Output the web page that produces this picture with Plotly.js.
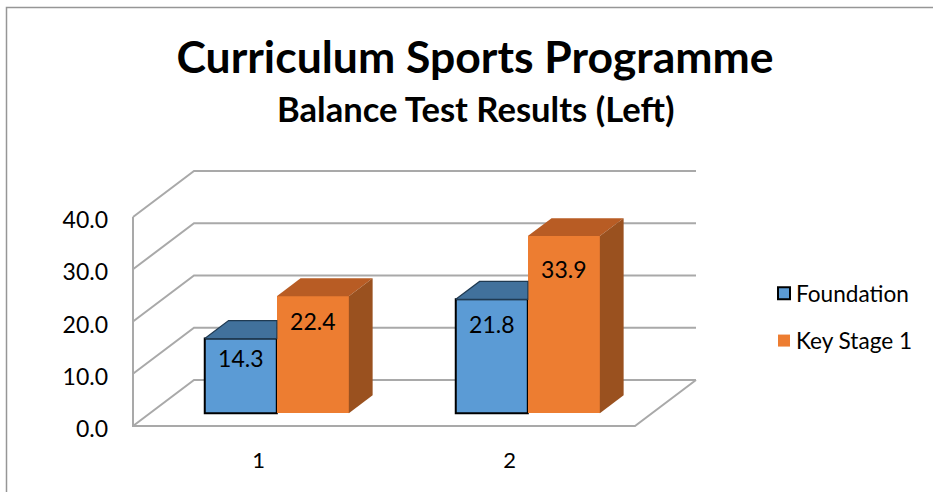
<!DOCTYPE html>
<html>
<head>
<meta charset="utf-8">
<script src="https://cdn.plot.ly/plotly-3.0.1.min.js"></script>
<style>html,body{margin:0;padding:0;background:#fff}#c{width:933px;height:492px}</style>
</head>
<body>
<div id="c"></div>
<script>
const categories = [1, 2];
const foundation = [14.3, 21.8];
const keyStage1 = [22.4, 33.9];
const yTicks = [0, 10, 20, 30, 40];
const seriesNames = ['Foundation', 'Key Stage 1'];
const chartTitle = 'Curriculum Sports Programme';
const chartSubtitle = 'Balance Test Results (Left)';

const W = 933, H = 492;
const fx0 = 133, fy0 = 426, catPx = 251, unitPx = 5.225, backX = 61, backY = 46, pad = 3;
const depthX = backX / catPx, depthY = backY / unitPx;
const FONT = 'Lato, "Open Sans", sans-serif';
const GRID = '#A9A9A9';

const plotL = fx0 - pad, plotR = fx0 + 2 * catPx + backX + pad;
const plotB = fy0 + pad, plotT = fy0 - 40 * unitPx - backY - pad;
const xMin = 0.5 - pad / catPx, xMax = 2.5 + depthX + pad / catPx;
const yMin = -pad / unitPx, yMax = 40 + depthY + pad / unitPx;

const barW = 0.287, barDepth0 = 0.3, barDepth = 0.39;
const shiftX = barDepth0 * depthX, base = barDepth0 * depthY - 0.2;
const bdx = barDepth * depthX, bdy = barDepth * depthY;

const traces = [];
function xs(i, side) { return categories[i] + shiftX + side * barW; }

traces.push({
  type: 'bar', name: seriesNames[0], legendgroup: 'a',
  x: categories.map((c, i) => xs(i, -0.5)), y: foundation,
  base: foundation.map(() => base), width: barW,
  marker: { color: '#5B9BD5', line: { color: '#000', width: 2 } }, hoverinfo: 'skip'
});
traces.push({
  type: 'bar', name: seriesNames[1], legendgroup: 'b',
  x: categories.map((c, i) => xs(i, 0.5)), y: keyStage1,
  base: keyStage1.map(() => base), width: barW,
  marker: { color: '#ED7D31', line: { width: 0 } }, hoverinfo: 'skip'
});

function poly(px, py, color, line) {
  traces.push({
    type: 'scatter', mode: 'lines', x: px, y: py, fill: 'toself', fillcolor: color,
    line: line || { width: 0, color: color }, showlegend: false, hoverinfo: 'skip'
  });
}
categories.forEach((c, i) => {
  const l = xs(i, -1), m = xs(i, 0), r = xs(i, 1);
  const a = base + foundation[i], b = base + keyStage1[i];
  poly([l, l + bdx, m, m, l], [a, a + bdy, a + bdy, a, a], '#41719C', { width: 1.2, color: '#1F3A52' });
  poly([m, m + bdx, r + bdx, r, m], [b, b + bdy, b + bdy, b, b], '#B85C24');
  poly([r, r + bdx, r + bdx, r, r], [base, base + bdy, b + bdy, b, base], '#9A511F');
});

function labels(vals, side) {
  traces.push({
    type: 'scatter', mode: 'text', showlegend: false, hoverinfo: 'skip',
    x: categories.map((c, i) => xs(i, side)),
    y: vals.map(v => base + 0.87 * v - 2.55),
    text: vals.map(v => v.toFixed(1)),
    textposition: 'middle center',
    textfont: { family: FONT, size: 23, color: '#000' }
  });
}
labels(foundation, -0.5);
labels(keyStage1, 0.5);

const gridLine = { color: GRID, width: 2 };
const shapes = [];
const x0 = 0.5, x1 = 2.5;
yTicks.forEach(t => shapes.push({
  type: 'path', layer: 'below', xref: 'x', yref: 'y', line: gridLine,
  path: `M${x0},${t}L${x0 + depthX},${t + depthY}L${x1 + depthX},${t + depthY}`
}));
shapes.push({
  type: 'path', layer: 'below', xref: 'x', yref: 'y', line: gridLine,
  path: `M${x0},${yTicks[yTicks.length - 1]}L${x0},0L${x1},0L${x1 + depthX},${depthY}`
});
const pxX = p => (p - plotL) / (plotR - plotL), pxY = p => (plotB - p) / (plotB - plotT);
shapes.push({
  type: 'path', xref: 'paper', yref: 'paper', line: { color: '#969696', width: 1.5 },
  path: `M${pxX(6.5)},${pxY(H)}L${pxX(6.5)},${pxY(7.5)}L${pxX(W)},${pxY(7.5)}`
});

const layout = {
  width: W, height: H, showlegend: true, barmode: 'overlay', bargap: 0,
  paper_bgcolor: '#fff', plot_bgcolor: 'rgba(0,0,0,0)',
  margin: { l: plotL, r: W - plotR, t: plotT, b: H - plotB, pad: 0, autoexpand: false },
  font: { family: FONT, color: '#000' },
  title: {
    text: '<b>' + chartTitle + '</b>', xref: 'paper', x: pxX(475), xanchor: 'center',
    yref: 'container', y: 1 - 57.5 / H, yanchor: 'middle',
    font: { family: FONT, size: 44.5, color: '#000' }
  },
  annotations: [{
    text: '<b>' + chartSubtitle + '</b>', xref: 'paper', yref: 'paper',
    x: pxX(475), y: pxY(108), xanchor: 'center', yanchor: 'middle', showarrow: false,
    font: { family: FONT, size: 34.6, color: '#000' }
  }],
  xaxis: {
    range: [xMin, xMax], tickmode: 'array', tickvals: categories, ticktext: categories.map(String),
    showgrid: false, zeroline: false, showline: false, ticks: '',
    ticklabelstandoff: 16, tickfont: { family: FONT, size: 22, color: '#000' }
  },
  yaxis: {
    range: [yMin, yMax], tickmode: 'array', tickvals: yTicks, ticktext: yTicks.map(v => v.toFixed(1)),
    showgrid: false, zeroline: false, showline: false, ticks: '',
    ticklabelstandoff: 21, ticklabelshift: 3, tickfont: { family: FONT, size: 23, color: '#000' }
  },
  legend: {
    x: pxX(756), y: pxY(272), xanchor: 'left', yanchor: 'top', traceorder: 'grouped',
    tracegroupgap: 15, itemwidth: 30, bgcolor: 'rgba(0,0,0,0)',
    font: { family: FONT, size: 22.6, color: '#000' }
  },
  shapes: shapes
};
Plotly.newPlot('c', traces, layout, { displayModeBar: false, staticPlot: true }).then(() => {
  document.querySelectorAll('#c .legend .legendsymbols').forEach(g => g.setAttribute('transform', 'translate(8,0)'));
});
</script>
</body>
</html>
